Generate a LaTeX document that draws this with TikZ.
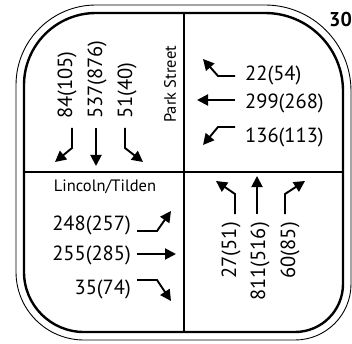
\documentclass[tikz,border=0pt]{standalone}
\usepackage{fontspec}
\setmainfont{PT Sans}
\usetikzlibrary{arrows.meta}
\begin{document}
\begin{tikzpicture}[x=1pt,y=-1pt,
  num/.style={font=\fontsize{20.5}{22}\selectfont, inner sep=0pt},
  lbl/.style={font=\fontsize{16.5}{18}\selectfont, inner sep=0pt},
  mv/.style={line width=1.9pt, -{Triangle[length=11pt,width=11pt]}},
  outerline/.style={line width=0.9pt},
  innerline/.style={line width=2.4pt},
  divider/.style={line width=1.5pt}]
\useasboundingbox (0,0) rectangle (352,344);
% outlines
\draw[outerline] (16,85) arc[start angle=180,end angle=90,radius=80pt] -- (265,5)
  arc[start angle=90,end angle=0,radius=86pt] -- (351,284)
  arc[start angle=0,end angle=-90,radius=56pt] -- (84,340)
  arc[start angle=270,end angle=180,radius=68pt] -- cycle;
\draw[innerline] (24,85) arc[start angle=180,end angle=90,radius=72pt] -- (265,13)
  arc[start angle=90,end angle=0,radius=78pt] -- (343,284)
  arc[start angle=0,end angle=-90,radius=48pt] -- (84,332)
  arc[start angle=270,end angle=180,radius=60pt] -- cycle;
% dividers
\coordinate (vt) at (184,13); \coordinate (vb) at (184,332);
\coordinate (hl) at (24,172); \coordinate (hr) at (343,172);
\draw[divider] (vt) -- (vb);
\draw[divider] (hl) -- (hr);
% top-left quadrant
\node[num,rotate=90,anchor=west] (sl) at (67,119) {84(105)};
\node[num,rotate=90,anchor=west] (st) at (97,119) {537(876)};
\node[num,rotate=90,anchor=west] (sr) at (127,119) {51(40)};
\node[lbl,rotate=90,anchor=west] (park) at (170,123) {Park Street};
\draw[mv] (72,128) -- (72,148) -- (55,162);
\draw[mv] (96,128) -- (96,166);
\draw[mv] (125,128) -- (125,148) -- (143,162);
% top-right quadrant
\node[num,anchor=west] (wr) at (245,75) {22(54)};
\node[num,anchor=west] (wt) at (245,103) {299(268)};
\node[num,anchor=west] (wl) at (245,137) {136(113)};
\draw[mv] (235,76) -- (218,76) -- (203,59);
\draw[mv] (235,100) -- (197,100);
\draw[mv] (235,127) -- (218,127) -- (203,145);
% bottom-left quadrant
\node[lbl] (linc) at (105,187) {Lincoln/Tilden};
\node[num,anchor=east] (el) at (131,225) {248(257)};
\node[num,anchor=east] (et) at (131,255) {255(285)};
\node[num,anchor=east] (er) at (131,289) {35(74)};
\draw[mv] (137,231) -- (157,231) -- (171,211);
\draw[mv] (137,254) -- (176,254);
\draw[mv] (137,280) -- (157,280) -- (171,301);
% bottom-right quadrant
\node[num,rotate=90,anchor=east] (nl) at (231,222) {27(51)};
\node[num,rotate=90,anchor=east] (nt) at (260,222) {811(516)};
\node[num,rotate=90,anchor=east] (nr) at (290,222) {60(85)};
\draw[mv] (235,214) -- (235,194) -- (216,181);
\draw[mv] (257,214) -- (257,176);
\draw[mv] (285,214) -- (285,194) -- (305,181);
% corner label
\node[font=\bfseries\fontsize{20}{22}\selectfont, anchor=west, inner sep=0pt] (id) at (329,20) {30};
\end{tikzpicture}
\end{document}
